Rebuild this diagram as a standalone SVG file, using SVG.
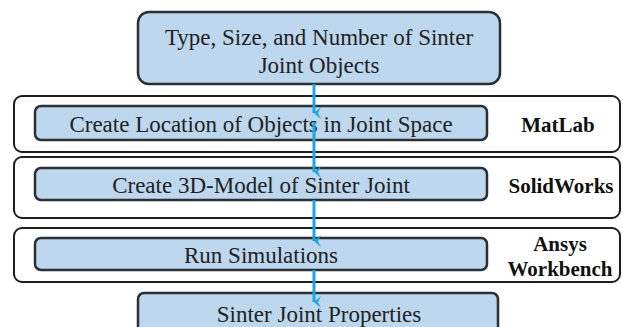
<svg xmlns="http://www.w3.org/2000/svg" width="623" height="327" viewBox="0 0 623 327">
<style>
.node{fill:#bdd7ee;stroke:#2b2f33;stroke-width:2.5}
.outer{fill:#ffffff;stroke:#1e1e1e;stroke-width:2}
.t{font-family:"Liberation Serif","Times New Roman",serif;font-size:23px;fill:#222;text-anchor:middle}
.b{font-family:"Liberation Serif","Times New Roman",serif;font-size:21px;font-weight:bold;fill:#111;text-anchor:middle}
.conn{stroke:#1ba6e0;stroke-width:3;fill:none}
</style>
<defs>
<marker id="ah" viewBox="0 0 12 10" refX="6" refY="9" markerWidth="12" markerHeight="10" markerUnits="userSpaceOnUse" orient="auto-start-reverse">
<path d="M0,2 L6,9 L12,2 L6,5 Z" fill="#1ba6e0"/>
</marker>
</defs>
<rect width="623" height="327" fill="#ffffff"/>
<g id="lane-matlab">
<rect class="outer" x="14" y="96" width="606" height="56" rx="8"/>
<text class="b" x="558" y="132">MatLab</text>
</g>
<g id="lane-solidworks">
<rect class="outer" x="14" y="157" width="606" height="61" rx="8"/>
<text class="b" x="561" y="193">SolidWorks</text>
</g>
<g id="lane-ansys">
<rect class="outer" x="14" y="228" width="606" height="54" rx="8"/>
<text class="b" x="560" y="251">Ansys</text>
<text class="b" x="560" y="276">Workbench</text>
</g>
<g id="n-input">
<rect class="node" x="138" y="12" width="362" height="72" rx="11"/>
<text class="t" x="319" y="45">Type, Size, and Number of Sinter</text>
<text class="t" x="319" y="73">Joint Objects</text>
</g>
<g id="n-location">
<rect class="node" x="35" y="106" width="452" height="34" rx="6"/>
<text class="t" x="261" y="132">Create Location of Objects in Joint Space</text>
</g>
<g id="n-model">
<rect class="node" x="35" y="168" width="452" height="32" rx="6"/>
<text class="t" x="261" y="193">Create 3D-Model of Sinter Joint</text>
</g>
<g id="n-sim">
<rect class="node" x="35" y="238" width="452" height="32" rx="6"/>
<text class="t" x="261" y="263">Run Simulations</text>
</g>
<g id="n-props">
<rect class="node" x="138" y="293" width="360" height="45" rx="6"/>
<text class="t" x="319" y="322">Sinter Joint Properties</text>
</g>
<g id="connectors">
<line class="conn" x1="314" y1="84" x2="314" y2="113" marker-end="url(#ah)"/>
<line class="conn" x1="314" y1="122" x2="314" y2="172" marker-end="url(#ah)"/>
<line class="conn" x1="314" y1="200" x2="314" y2="241" marker-end="url(#ah)"/>
<line class="conn" x1="314" y1="270" x2="314" y2="302" marker-end="url(#ah)"/>
</g>
</svg>
